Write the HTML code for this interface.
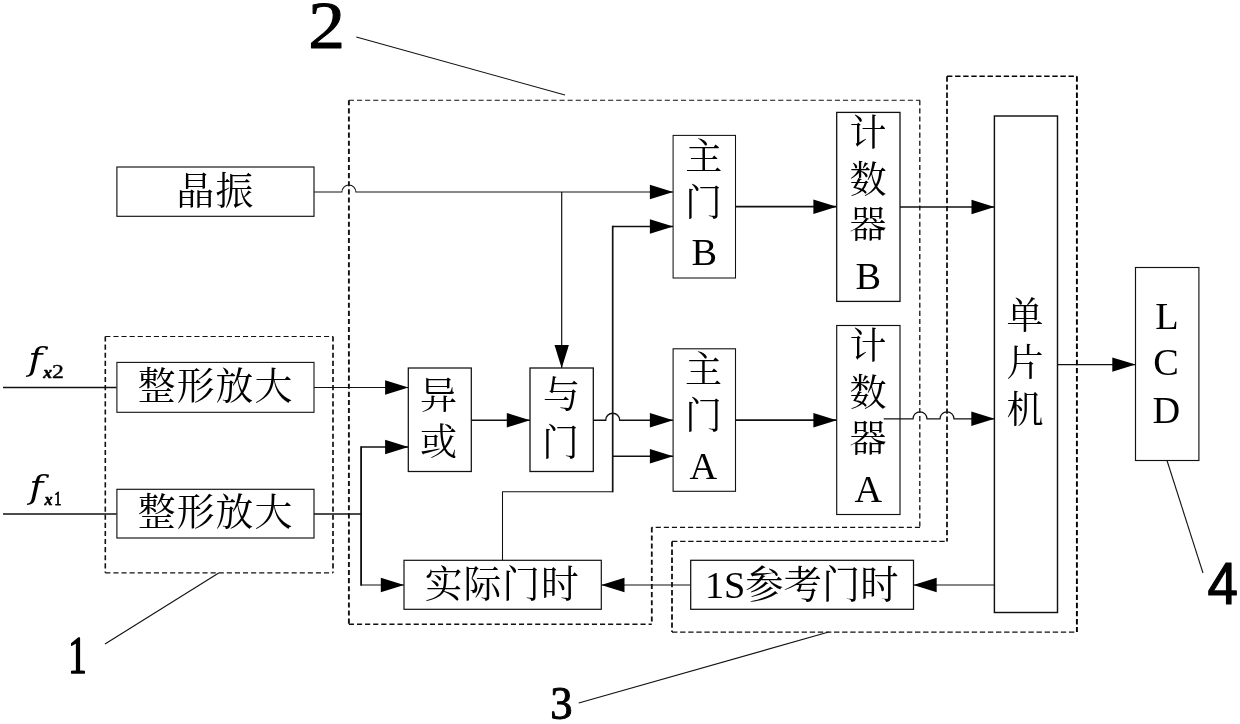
<!DOCTYPE html>
<html lang="zh-CN">
<head>
<meta charset="utf-8">
<title>等精度频率测量框图</title>
<style>
html,body{margin:0;padding:0;background:#fff;}
body{width:1240px;height:724px;overflow:hidden;}
svg{display:block;}
text{fill:#000;}
.cj{font-family:"Liberation Serif","Noto Serif CJK SC",serif;}
.sn{font-family:"Liberation Sans","Noto Sans CJK SC",sans-serif;}
.bi{font-family:"Liberation Serif",serif;font-style:italic;font-weight:bold;}
.dj{font-family:"DejaVu Serif","Liberation Serif",serif;font-style:italic;}
.rg{font-family:"Liberation Serif",serif;}
</style>
</head>
<body>
<svg width="1240" height="724" viewBox="0 0 1240 724">
<defs><filter id="g" x="0" y="0" width="1240" height="724" filterUnits="userSpaceOnUse" color-interpolation-filters="sRGB"><feColorMatrix type="saturate" values="0"/></filter></defs>
<rect x="0" y="0" width="1240" height="724" fill="#fff"/>
<g filter="url(#g)">
<path d="M105.3 336.5 L333 336.5" fill="none" stroke="#111" stroke-width="1.05" stroke-dasharray="5.1 3"/>
<path d="M333 336.5 L333 572.8" fill="none" stroke="#111" stroke-width="1.7" stroke-dasharray="5.1 3"/>
<path d="M105.3 572.8 L333 572.8" fill="none" stroke="#111" stroke-width="1.2" stroke-dasharray="5.1 3"/>
<path d="M105.3 336.5 L105.3 572.8" fill="none" stroke="#111" stroke-width="1.6" stroke-dasharray="5.1 3"/>
<path d="M348.9 100.2 L920 100.2" fill="none" stroke="#111" stroke-width="1.05" stroke-dasharray="5.1 3"/>
<path d="M919.8 100.2 L919.8 527.3" fill="none" stroke="#111" stroke-width="1.3" stroke-dasharray="5.1 3"/>
<path d="M920 527.3 L651.8 527.3" fill="none" stroke="#111" stroke-width="1.2" stroke-dasharray="5.1 3"/>
<path d="M651.8 527.3 L651.8 624.2" fill="none" stroke="#111" stroke-width="1.8" stroke-dasharray="5.1 3"/>
<path d="M348.9 624.2 L651.8 624.2" fill="none" stroke="#111" stroke-width="1.4" stroke-dasharray="5.1 3"/>
<path d="M348.9 100.2 L348.9 624.2" fill="none" stroke="#111" stroke-width="1.9" stroke-dasharray="5.1 3"/>
<path d="M947 76.3 L1076.9 76.3" fill="none" stroke="#000" stroke-width="1.5" stroke-dasharray="5.4 2.7"/>
<path d="M1076.9 76.3 L1076.9 632.1" fill="none" stroke="#000" stroke-width="1.9" stroke-dasharray="5.4 2.7"/>
<path d="M672 632.1 L1076.9 632.1" fill="none" stroke="#111" stroke-width="1.15" stroke-dasharray="5.4 2.7"/>
<path d="M672 541.4 L672 632.1" fill="none" stroke="#111" stroke-width="1.8" stroke-dasharray="5.4 2.7"/>
<path d="M672 541.4 L947 541.4" fill="none" stroke="#111" stroke-width="1.3" stroke-dasharray="5.4 2.7"/>
<path d="M947 76.3 L947 541.4" fill="none" stroke="#111" stroke-width="1.8" stroke-dasharray="5.4 2.7"/>
<path d="M356.3 37 L565 95" fill="none" stroke="#111" stroke-width="1.1"/>
<path d="M218.7 573 L105 644" fill="none" stroke="#111" stroke-width="1.1"/>
<path d="M578.7 703 L828.7 632" fill="none" stroke="#111" stroke-width="1.1"/>
<path d="M1167 460.5 L1203 573" fill="none" stroke="#111" stroke-width="1.1"/>
<path d="M314 192.0 L341.9 192 A7 7 0 0 1 355.9 192 L673 192.0" fill="none" stroke="#111" stroke-width="1.05"/>
<polygon points="673.2,192 649.9,184.8 649.9,199.2" fill="#000"/>
<path d="M561.7 192 L561.7 368" fill="none" stroke="#111" stroke-width="1.2" stroke-linejoin="miter"/>
<polygon points="561.7,368.2 554.5,344.9 568.9,344.9" fill="#000"/>
<path d="M3 387.5 L116.5 387.5" fill="none" stroke="#111" stroke-width="1.35" stroke-linejoin="miter"/>
<path d="M3 513.9 L116.5 513.9" fill="none" stroke="#111" stroke-width="1.5" stroke-linejoin="miter"/>
<path d="M314 387.5 L408.3 387.5" fill="none" stroke="#111" stroke-width="1.1" stroke-linejoin="miter"/>
<polygon points="408.4,387.5 385.1,380.3 385.1,394.7" fill="#000"/>
<path d="M314 513.9 L361.1 513.9" fill="none" stroke="#111" stroke-width="1.5" stroke-linejoin="miter"/>
<path d="M361.1 446.3 L361.1 585.7" fill="none" stroke="#111" stroke-width="1.85" stroke-linejoin="miter"/>
<path d="M361.1 447 L408.3 447" fill="none" stroke="#111" stroke-width="1.35" stroke-linejoin="miter"/>
<polygon points="408.4,447 385.1,439.8 385.1,454.2" fill="#000"/>
<path d="M361.1 585 L404 585" fill="none" stroke="#111" stroke-width="1.1" stroke-linejoin="miter"/>
<polygon points="404.1,585 380.8,577.8 380.8,592.2" fill="#000"/>
<path d="M471.3 420.2 L530 420.2" fill="none" stroke="#111" stroke-width="1.35" stroke-linejoin="miter"/>
<polygon points="530.1,420.2 506.8,413 506.8,427.4" fill="#000"/>
<path d="M593.3 420.2 L605.7 420.2 A7 7 0 0 1 619.7 420.2 L673 420.2" fill="none" stroke="#111" stroke-width="1.4"/>
<polygon points="673.2,420.2 649.9,413 649.9,427.4" fill="#000"/>
<path d="M502.5 560.3 L502.5 491.8 L612.7 491.8" fill="none" stroke="#111" stroke-width="1.05" stroke-linejoin="miter"/>
<path d="M612.7 492.3 L612.7 225.8" fill="none" stroke="#111" stroke-width="1.7" stroke-linejoin="miter"/>
<path d="M612.7 226.5 L673 226.5" fill="none" stroke="#111" stroke-width="1.4" stroke-linejoin="miter"/>
<polygon points="673.2,226.5 649.9,219.3 649.9,233.7" fill="#000"/>
<path d="M612.7 456.3 L673 456.3" fill="none" stroke="#111" stroke-width="1.5" stroke-linejoin="miter"/>
<polygon points="673.2,456.3 649.9,449.1 649.9,463.5" fill="#000"/>
<path d="M735.5 206.7 L836.5 206.7" fill="none" stroke="#111" stroke-width="1.8" stroke-linejoin="miter"/>
<polygon points="836.7,206.7 813.4,199.5 813.4,213.9" fill="#000"/>
<path d="M735.5 420.2 L836.5 420.2" fill="none" stroke="#111" stroke-width="1.7" stroke-linejoin="miter"/>
<polygon points="836.7,420.2 813.4,413 813.4,427.4" fill="#000"/>
<path d="M900 207 L995 207" fill="none" stroke="#111" stroke-width="1.5" stroke-linejoin="miter"/>
<polygon points="994.5,207 971.5,199.8 971.5,214.2" fill="#000"/>
<path d="M883.7 418.8 L913 418.8 A7 7 0 0 1 927 418.8 L940 418.8 A7 7 0 0 1 954 418.8 L994.5 418.8" fill="none" stroke="#111" stroke-width="1.3"/>
<polygon points="994.6,418.8 971.3,411.6 971.3,426" fill="#000"/>
<path d="M1058 364.6 L1135.5 364.6" fill="none" stroke="#111" stroke-width="1.1" stroke-linejoin="miter"/>
<polygon points="1135.6,364.6 1112.3,357.4 1112.3,371.8" fill="#000"/>
<path d="M995 585 L913.5 585" fill="none" stroke="#111" stroke-width="1.05" stroke-linejoin="miter"/>
<polygon points="913.4,585 936.7,577.8 936.7,592.2" fill="#000"/>
<path d="M690.7 585 L601.3 585" fill="none" stroke="#111" stroke-width="1.05" stroke-linejoin="miter"/>
<polygon points="601.2,585 624.5,577.8 624.5,592.2" fill="#000"/>
<rect x="116.9" y="167" width="197.1" height="49.3" fill="none" stroke="#111" stroke-width="1.15"/>
<rect x="116.9" y="362.4" width="197.1" height="49.9" fill="none" stroke="#111" stroke-width="1.1"/>
<rect x="116.9" y="489.3" width="197.1" height="48.7" fill="none" stroke="#111" stroke-width="1.15"/>
<rect x="408.3" y="368" width="63" height="103.5" fill="none" stroke="#111" stroke-width="1.25"/>
<rect x="530" y="368" width="63.3" height="103.5" fill="none" stroke="#111" stroke-width="1.3"/>
<rect x="404" y="560.3" width="197.3" height="49" fill="none" stroke="#111" stroke-width="1.2"/>
<rect x="673.1" y="135.4" width="62.4" height="142.6" fill="none" stroke="#111" stroke-width="1.05"/>
<rect x="673.1" y="348.8" width="62.4" height="142.5" fill="none" stroke="#111" stroke-width="1.1"/>
<rect x="836.7" y="112.4" width="63.3" height="189" fill="none" stroke="#111" stroke-width="1.3"/>
<rect x="836.7" y="325.5" width="63.3" height="189" fill="none" stroke="#111" stroke-width="1.15"/>
<rect x="690.7" y="560.3" width="222.8" height="49" fill="none" stroke="#111" stroke-width="1.25"/>
<rect x="994.4" y="116" width="63.1" height="496.5" fill="none" stroke="#111" stroke-width="1.45"/>
<rect x="1135.5" y="267.5" width="63.4" height="193" fill="none" stroke="#111" stroke-width="1.15"/>
<text x="176.5" y="204.12" font-size="37.8" class="cj" letter-spacing="1.25">晶振</text>
<text x="137.75" y="399.02" font-size="37.8" class="cj" letter-spacing="1.08">整形放大</text>
<text x="137.75" y="525.23" font-size="37.8" class="cj" letter-spacing="1.08">整形放大</text>
<text class="cj"><tspan x="420" y="408.75" font-size="37">异</tspan><tspan x="420" y="455" font-size="37">或</tspan></text>
<text class="cj"><tspan x="543.12" y="408.25" font-size="37">与</tspan><tspan x="541.88" y="455.62" font-size="37">门</tspan></text>
<text x="424.73" y="597.23" font-size="37.8" class="cj" letter-spacing="0.93">实际门时</text>
<text x="704.88" y="597.88" font-size="38.3" class="cj">1S参考门时</text>
<text class="cj"><tspan x="685.15" y="169.82" font-size="37">主</tspan><tspan x="684.88" y="215.97" font-size="37">门</tspan><tspan x="691.38" y="265.12" font-size="38.3">B</tspan></text>
<text class="cj"><tspan x="685.1" y="382.98" font-size="37">主</tspan><tspan x="684.88" y="429.48" font-size="37">门</tspan><tspan x="689.62" y="479.23" font-size="38.3">A</tspan></text>
<text class="cj"><tspan x="849.38" y="146.22" font-size="37">计</tspan><tspan x="849.62" y="192.62" font-size="37">数</tspan><tspan x="849.62" y="238.45" font-size="37">器</tspan><tspan x="855.48" y="288.73" font-size="38.3">B</tspan></text>
<text class="cj"><tspan x="849.38" y="359.48" font-size="37">计</tspan><tspan x="849.62" y="405.57" font-size="37">数</tspan><tspan x="849.62" y="452.25" font-size="37">器</tspan><tspan x="854.38" y="502.38" font-size="38.3">A</tspan></text>
<text class="cj"><tspan x="1006.5" y="328.75" font-size="37">单</tspan><tspan x="1006.62" y="376.25" font-size="37">片</tspan><tspan x="1006.5" y="422.75" font-size="37">机</tspan></text>
<text class="cj"><tspan x="1155.25" y="328.7" font-size="38.3">L</tspan><tspan x="1153.25" y="375.35" font-size="38.3">C</tspan><tspan x="1152.58" y="422.5" font-size="38.3">D</tspan></text>
<text transform="translate(308.3,48.3) scale(1.083,1)" font-size="67.9" class="cj" stroke="#000" stroke-width="1.0" stroke-linejoin="round">2</text>
<text transform="translate(68.35,672.52) scale(0.701,1)" font-size="52.7" class="cj" stroke="#000" stroke-width="1.6" stroke-linejoin="round">1</text>
<text transform="translate(550.17,719.05) scale(0.941,1)" font-size="47.4" class="cj" stroke="#000" stroke-width="1.0" stroke-linejoin="round">3</text>
<text transform="translate(1207.47,604.25) scale(0.937,1)" font-size="58.4" class="sn" stroke="#000" stroke-width="1.2" stroke-linejoin="round">4</text>
<text transform="translate(28.25,370.3) scale(1.211,1)" font-size="31.7" class="dj">f</text>
<text transform="translate(43.23,378.27) scale(1.063,1)" font-size="16.6" class="bi" stroke="#000" stroke-width="0.6" stroke-linejoin="round">x</text>
<text transform="translate(52.1,378.25) scale(1.303,1)" font-size="18.2" class="rg" stroke="#000" stroke-width="0.4" stroke-linejoin="round">2</text>
<text transform="translate(29.35,497.7) scale(1.216,1)" font-size="31.5" class="dj">f</text>
<text transform="translate(44.45,505.3) scale(1.018,1)" font-size="15.9" class="bi" stroke="#000" stroke-width="0.6" stroke-linejoin="round">x</text>
<text transform="translate(54.17,505.1) scale(0.76,1)" font-size="18.8" class="rg" stroke="#000" stroke-width="0.9" stroke-linejoin="round">1</text>
</g>
</svg>
</body>
</html>
